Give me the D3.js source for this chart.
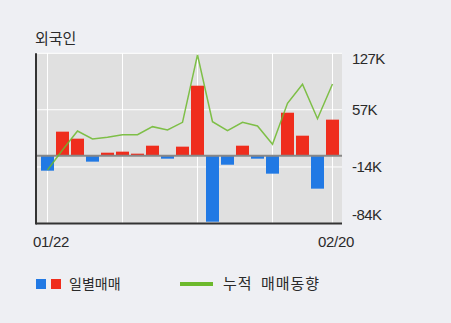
<!DOCTYPE html>
<html>
<head>
<meta charset="utf-8">
<script src="https://cdn.jsdelivr.net/npm/d3@7/dist/d3.min.js"></script>
<style>
  html, body { margin: 0; padding: 0; background: #eeeff3; }
  svg { display: block; }
</style>
</head>
<body>
<script>
// trading days shown on the chart
var dates = ['01/22', '01/23', '01/24', '01/25', '01/26', '01/29', '01/30', '01/31', '02/01', '02/02',
  '02/05', '02/06', '02/07', '02/08', '02/09', '02/12', '02/13', '02/14', '02/19', '02/20'];
// daily net buying (K shares)
var daily = [-18.6, 29.8, 21.1, -7.4, 3.7, 5, 2.5, 12.4, -3.7, 11.2,
  86.8, -81.9, -11.2, 12.4, -3.7, -22.3, 53.3, 24.8, -40.9, 44.7];
// cumulative trend (K shares)
var cumulative = [-17.7, 7, 30.6, 20.7, 22.8, 26, 26, 36, 31.9, 41.4,
  125, 42.2, 31, 41.4, 36.8, 14.1, 65, 88.6, 45.9, 89];
var yTicks = [-84, -14, 57, 127];
var gridDates = ['01/22', '01/29', '02/05', '02/12', '02/20'];
var xLabels = ['01/22', '02/20'];

var width = 451,
  height = 323,
  plotLeft = 36,
  plotRight = 342,
  plotTop = 53.3,
  plotBottom = 223.4;

var red = '#ef2d1d',
  blue = '#2179e4',
  green = '#6cb92c';

var svg = d3.select('body').append('svg').attr('width', width).attr('height', height);

var x = d3.scaleBand().domain(dates).range([40, 340]).paddingInner(2 / 15).paddingOuter(1 / 15);
var y = d3.scaleLinear().domain([-84, 127]).range([plotBottom, plotTop]);
function cx(d) { return x(d) + x.bandwidth() / 2; }

// plot background
svg.append('rect')
  .attr('x', plotLeft)
  .attr('y', plotTop)
  .attr('width', plotRight - plotLeft)
  .attr('height', plotBottom - plotTop)
  .style('fill', '#e0e0e0');

// grid
svg.append('g').selectAll('line')
  .data(yTicks.slice(1))
  .enter().append('line')
  .attr('x1', plotLeft).attr('x2', plotRight)
  .attr('y1', function(d) { return y(d); })
  .attr('y2', function(d) { return y(d); })
  .style('stroke', '#fff')
  .style('stroke-width', 1);

svg.append('g').selectAll('line')
  .data(gridDates)
  .enter().append('line')
  .attr('x1', function(d) { return cx(d); })
  .attr('x2', function(d) { return cx(d); })
  .attr('y1', plotTop).attr('y2', plotBottom)
  .style('stroke', '#fff')
  .style('stroke-width', 1);

// bars
svg.append('g').selectAll('rect')
  .data(daily)
  .enter().append('rect')
  .attr('x', function(d, i) { return x(dates[i]); })
  .attr('y', function(d) { return y(Math.max(0, d)); })
  .attr('width', x.bandwidth())
  .attr('height', function(d) { return Math.abs(y(d) - y(0)); })
  .style('fill', function(d) { return d >= 0 ? red : blue; });

// zero line
svg.append('line')
  .attr('x1', plotLeft).attr('x2', plotRight)
  .attr('y1', y(0)).attr('y2', y(0))
  .style('stroke', '#888')
  .style('stroke-width', 2);

// cumulative line
var line = d3.line()
  .x(function(d, i) { return cx(dates[i]); })
  .y(function(d) { return y(d); });

svg.append('path')
  .datum(cumulative)
  .attr('d', line)
  .style('fill', 'none')
  .style('stroke', green)
  .style('stroke-width', 1.5)
  .style('stroke-opacity', 0.85);

// axes lines
svg.append('line')
  .attr('x1', plotLeft).attr('x2', plotLeft)
  .attr('y1', plotTop).attr('y2', plotBottom + 1)
  .style('stroke', '#333')
  .style('stroke-width', 2);
svg.append('line')
  .attr('x1', plotLeft).attr('x2', plotRight)
  .attr('y1', plotBottom).attr('y2', plotBottom)
  .style('stroke', '#333')
  .style('stroke-width', 2);

// y labels on the right, first and last kept inside the plot
svg.append('g').selectAll('text')
  .data(yTicks)
  .enter().append('text')
  .attr('x', 352)
  .attr('y', function(d, i) {
    if (i == 0) return y(d) - 3;
    if (i == yTicks.length - 1) return y(d) + 11;
    return y(d) + 5.5;
  })
  .style('font-family', 'Liberation Sans, Arial, sans-serif')
  .style('font-size', '15px')
  .style('letter-spacing', '-0.6px')
  .style('fill', '#2a2a2a')
  .text(function(d) { return (d < 0 ? '-' + Math.abs(d) : d) + 'K'; });

// x labels
svg.append('g').selectAll('text')
  .data(xLabels)
  .enter().append('text')
  .attr('x', function(d) { return cx(d) + 3.5; })
  .attr('y', 247)
  .attr('text-anchor', 'middle')
  .style('font-family', 'Liberation Sans, Arial, sans-serif')
  .style('font-size', '15px')
  .style('letter-spacing', '-0.3px')
  .style('fill', '#2a2a2a')
  .text(function(d) { return d; });

// title
svg.append('text')
  .attr('x', 35)
  .attr('y', 44)
  .style('font-family', 'Noto Sans CJK KR, sans-serif')
  .style('font-size', '15px')
  .style('fill', '#2a2a2a')
  .text('외국인');

// legend
var legend = svg.append('g').attr('class', 'legend');
legend.append('rect')
  .attr('x', 36).attr('y', 279)
  .attr('width', 10).attr('height', 10)
  .style('fill', blue);
legend.append('rect')
  .attr('x', 51).attr('y', 279)
  .attr('width', 10).attr('height', 10)
  .style('fill', red);
legend.append('text')
  .attr('x', 69).attr('y', 289)
  .style('font-family', 'Noto Sans CJK KR, sans-serif')
  .style('font-size', '14px')
  .style('fill', '#2a2a2a')
  .text('일별매매');
legend.append('line')
  .attr('x1', 180).attr('x2', 213)
  .attr('y1', 284).attr('y2', 284)
  .style('stroke', green)
  .style('stroke-width', 4);
legend.append('text')
  .attr('x', 223).attr('y', 289)
  .style('font-family', 'Noto Sans CJK KR, sans-serif')
  .style('font-size', '15px')
  .style('letter-spacing', '1px')
  .style('word-spacing', '4px')
  .style('fill', '#2a2a2a')
  .text('누적 매매동향');
</script>
</body>
</html>
